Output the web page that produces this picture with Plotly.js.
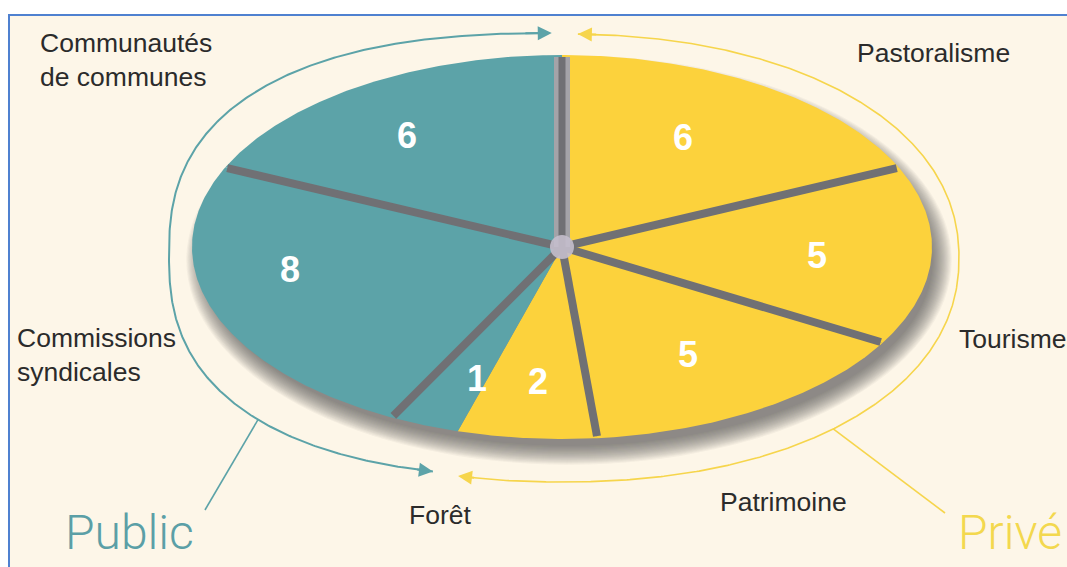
<!DOCTYPE html>
<html><head><meta charset="utf-8">
<script src="https://cdn.plot.ly/plotly-3.0.1.min.js"></script>
<style>html,body{margin:0;padding:0;background:#fff;}#chart{width:1067px;height:567px;}</style>
</head><body><div id="chart"></div>
<script>
// ---- data (clockwise from 12 o'clock) ----
const categories = ['Pastoralisme','Tourisme','Patrimoine','Forêt','Forêt','Commissions syndicales','Communautés de communes'];
const sectors    = ['Privé','Privé','Privé','Privé','Public','Public','Public'];
const values     = [6,5,5,2,1,8,6];
const groupNames = ['Public','Privé'];

// ---- geometry / style ----
const W = 1067, H = 567;
const CX = 562, CY = 247, RX = 370, RY = 192;
const sliceColor = {'Privé':'#fcd23c','Public':'#5ca3a8'};
const arcColor   = {'Public':'#5ca3a8','Privé':'#f6d54c'};
const textColor  = {'Public':'#5b9fa6','Privé':'#f3d84e'};
const numNudge = [[-15,0],[4,2],[-10,-2],[0,5],[9,10],[-34,-20],[-19,-2]];
const catLayout = {
  'Pastoralisme':{x:855,y:53,text:'Pastoralisme'},
  'Tourisme':{x:957,y:339,text:'Tourisme'},
  'Patrimoine':{x:718,y:502,text:'Patrimoine'},
  'Forêt':{x:407,y:515,text:'Forêt'},
  'Commissions syndicales':{x:15,y:355,text:'Commissions<br>syndicales'},
  'Communautés de communes':{x:38,y:60,text:'Communautés<br>de communes'}
};
const groupLayout = {'Public':{x:63,y:532},'Privé':{x:956,y:532}};
// arcs: super-ellipse + start/end parametric angles (deg, clockwise from top)
const arcs = {
  'Public':{cx:562,cy:255,rx:393,ry:222,n:2.5,t0:194.4,t1:359.4,w:2},
  'Privé':{cx:562,cy:258,rx:397,ry:224,n:2.15,t0:1.8,t1:193.7,w:1.6}
};
const leaders = {'Public':{t:226.5,x:205,y:510},'Privé':{t:138.4,x:945,y:513}};

const rad = d => d*Math.PI/180;
const ept = (t, cx, cy, rx, ry) => [cx + rx*Math.sin(rad(t)), cy - ry*Math.cos(rad(t))];
const spow = (v, e) => Math.sign(v)*Math.pow(Math.abs(v), e);
const sept = (t, a) => [a.cx + a.rx*spow(Math.sin(rad(t)),2/a.n), a.cy - a.ry*spow(Math.cos(rad(t)),2/a.n)];

const total = values.reduce((a,b)=>a+b,0);
const starts = [], ends = [];
let acc = 0;
values.forEach(v => { starts.push(acc/total*360); acc += v; ends.push(acc/total*360); });

const traces = [];
const shapes = [];
const annotations = [];

// background panel
shapes.push({type:'rect',xref:'x',yref:'y',x0:9,y0:15,x1:1090,y1:590,layer:'below',
  fillcolor:'#fdf6e8',line:{color:'#4f81d0',width:2}});
// drop shadow (stacked soft ellipses)
for (let i=0;i<18;i++){
  const k = -6 + i*1.1;
  shapes.push({type:'circle',xref:'x',yref:'y',layer:'below',
    x0:CX+7-(RX+k),x1:CX+7+(RX+k),y0:CY+13-(RY+k),y1:CY+13+(RY+k),
    fillcolor:'#555555',opacity:0.05,line:{width:0}});
}

// outer arcs
groupNames.forEach(g => {
  const a = arcs[g]; const xs=[], ys=[];
  for (let t=a.t0; t<=a.t1+1e-9; t+=0.4){ const p=sept(t,a); xs.push(p[0]); ys.push(p[1]); }
  traces.push({type:'scatter',mode:'lines',x:xs,y:ys,line:{color:arcColor[g],width:a.w},hoverinfo:'skip'});
  [[a.t0, a.t0+2.5],[a.t1, a.t1-2.5]].forEach(([tip,back])=>{
    const p=sept(tip,a), q=sept(back,a);
    annotations.push({x:p[0],y:p[1],ax:q[0],ay:q[1],xref:'x',yref:'y',axref:'x',ayref:'y',
      text:'',showarrow:true,arrowhead:2,arrowsize:1.4,arrowwidth:2,arrowcolor:arcColor[g],standoff:0});
  });
  const L = leaders[g]; const lp = sept(L.t,a);
  shapes.push({type:'line',xref:'x',yref:'y',x0:lp[0],y0:lp[1],x1:L.x,y1:L.y,line:{color:arcColor[g],width:1.6}});
});

// slices
values.forEach((v,i) => {
  const xs=[CX], ys=[CY];
  for (let t=starts[i]; t<=ends[i]+1e-9; t+=0.5){ const p=ept(t,CX,CY,RX,RY); xs.push(p[0]); ys.push(p[1]); }
  const pe = ept(ends[i],CX,CY,RX,RY); xs.push(pe[0]); ys.push(pe[1]);
  xs.push(CX); ys.push(CY);
  traces.push({type:'scatter',mode:'lines',x:xs,y:ys,fill:'toself',fillcolor:sliceColor[sectors[i]],
    line:{width:0,color:sliceColor[sectors[i]]},hoverinfo:'skip',name:categories[i]});
});

// gaps between slices (none between the two parts of the same category)
values.forEach((v,i) => {
  const j = (i+1)%values.length;
  if (categories[i] === categories[j]) return;
  const t = ends[i];
  const p = ept(t,CX,CY,RX-2,RY-2);
  const wide = sectors[i] !== sectors[j];
  if (wide) traces.push({type:'scatter',mode:'lines',x:[CX,p[0]],y:[CY,p[1]],line:{color:'#a4a3a8',width:16},hoverinfo:'skip'});
  traces.push({type:'scatter',mode:'lines',x:[CX,p[0]],y:[CY,p[1]],line:{color:'#707074',width:wide?7:8},hoverinfo:'skip'});
});
// soft light centre
traces.push({type:'scatter',mode:'markers',x:[CX],y:[CY],marker:{size:24,color:'rgba(196,190,204,0.9)',line:{width:0}},hoverinfo:'skip'});

// value labels in slices
values.forEach((v,i) => {
  const m = (starts[i]+ends[i])/2;
  const p = ept(m,CX,CY,RX*0.68,RY*0.68);
  annotations.push({x:p[0]+numNudge[i][0],y:p[1]+numNudge[i][1],xref:'x',yref:'y',text:String(v),showarrow:false,
    font:{family:'Liberation Sans, Arial, sans-serif',size:36,color:'#ffffff',weight:'bold'},xanchor:'center',yanchor:'middle'});
});

// category labels
[...new Set(categories)].forEach(c => {
  const L = catLayout[c];
  annotations.push({x:L.x,y:L.y,xref:'x',yref:'y',text:L.text,showarrow:false,align:'left',
    xanchor:'left',yanchor:'middle',font:{family:'Liberation Sans, Arial, sans-serif',size:26.5,color:'#2b2b2b'}});
});
// group labels
groupNames.forEach(g => {
  const L = groupLayout[g];
  annotations.push({x:L.x,y:L.y,xref:'x',yref:'y',text:g,showarrow:false,xanchor:'left',yanchor:'middle',
    font:{family:'Roboto, Liberation Sans, sans-serif',size:48,color:textColor[g],weight:300}});
});

const layout = {
  width:W,height:H,margin:{l:0,r:0,t:0,b:0},
  paper_bgcolor:'#ffffff',plot_bgcolor:'rgba(0,0,0,0)',showlegend:false,
  xaxis:{range:[0,W],visible:false,fixedrange:true},
  yaxis:{range:[H,0],visible:false,fixedrange:true},
  shapes:shapes,annotations:annotations,hovermode:false
};
Plotly.newPlot('chart',traces,layout,{staticPlot:true,displayModeBar:false});
</script></body></html>
